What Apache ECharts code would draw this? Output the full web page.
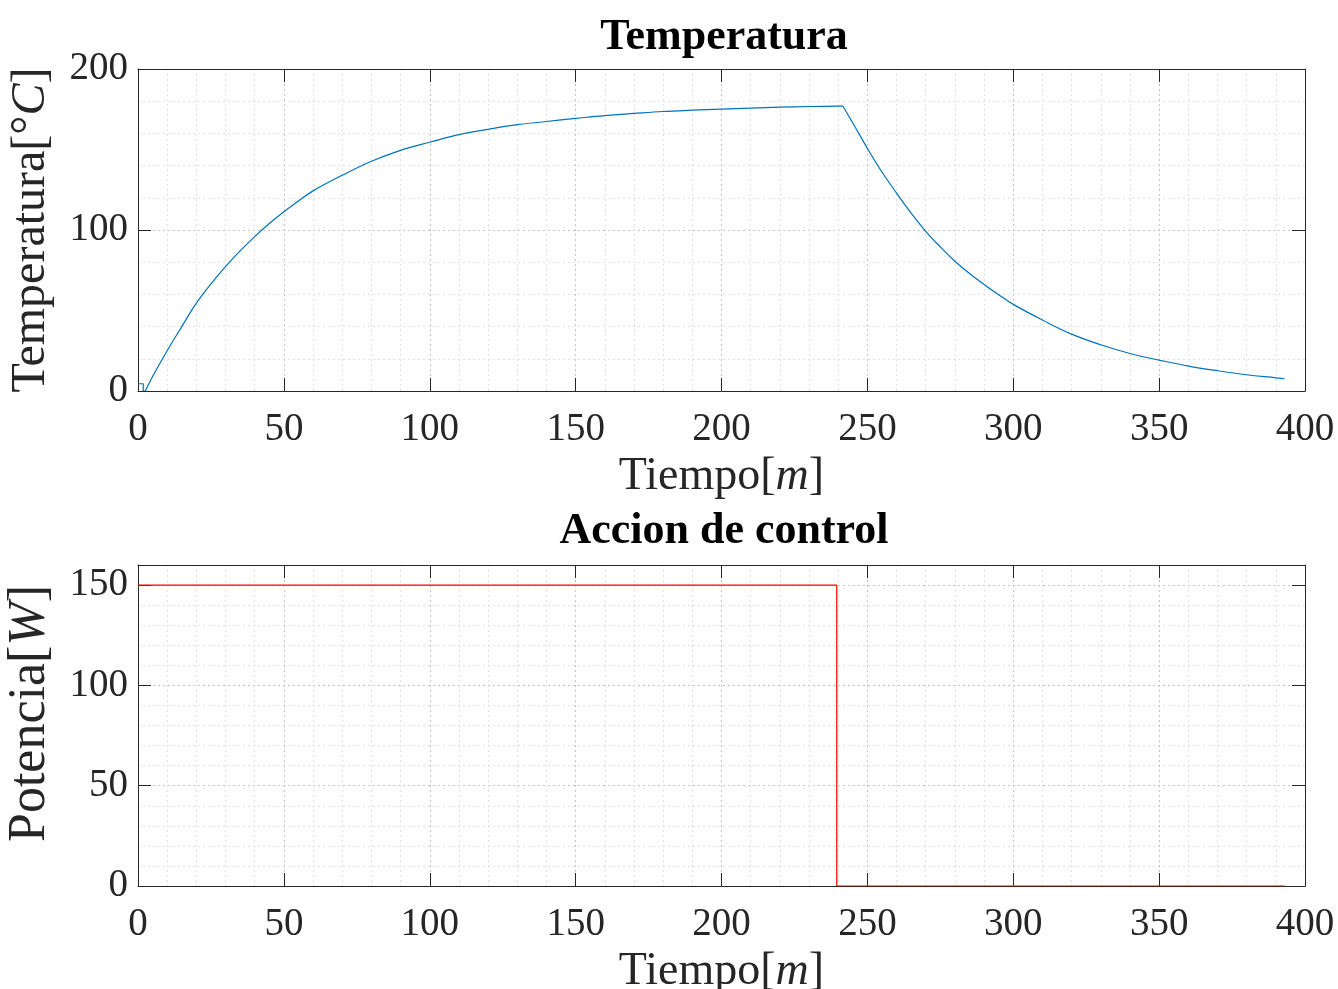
<!DOCTYPE html>
<html><head><meta charset="utf-8">
<script src="https://cdn.jsdelivr.net/npm/echarts@6/dist/echarts.min.js"></script>
<style>html,body{margin:0;padding:0;background:#fff}#c{width:1338px;height:989px}</style>
</head><body><div id="c"></div>
<script>
// Temperature response (minutes, °C)
const tempTime  = [0, 1.8, 1.8, 2.5, 5, 10, 15, 20, 25, 30, 35, 40, 45, 50, 55, 60, 70, 80, 90, 100,
                   110, 120, 130, 140, 150, 160, 170, 180, 190, 200, 210, 220, 230, 240, 241.6,
                   245, 250, 255, 260, 265, 270, 275, 280, 285, 290, 295, 300, 310, 320, 330, 340,
                   350, 360, 370, 380, 390, 393];
const tempValue = [4.5, 4.5, 0, 0, 9, 25, 40, 54.6, 66.5, 77.3, 87, 95.9, 104, 111.3, 118, 124.3, 134, 142.7, 149.5, 154.5,
                   159.2, 162.5, 165.4, 167.4, 169.3, 171.1, 172.4, 173.6, 174.4, 175.1, 175.7, 176.3, 176.7, 176.9, 177,
                   166.5, 150.7, 136, 122.9, 110.5, 99.2, 89.5, 80.6, 73, 66.2, 59.8, 53.8, 44.1, 35.3, 28.7, 23.3,
                   19.2, 15.5, 12.6, 10.1, 8.2, 7.6];
// Control action (minutes, W)
const powerTime  = [0, 239.5, 239.5, 393];
const powerValue = [150, 150, 0, 0];

const FONT = '"Liberation Serif", "Times New Roman", serif';
const AX = '#262626';
const gridDot = {type: [2, 3], color: '#c4c4c4', width: 1};
const minorDot = {type: [2, 3], color: '#e0e0e0', width: 1};

function pairs(xs, ys, a, b) { return xs.slice(a, b).map((x, i) => [x, ys[a + i]]); }
const riseStart = 3;                       // index of t = 2.5
const peakIdx = tempTime.indexOf(241.6);   // index of the peak

function xMain(g) {
  return {
    gridIndex: g, type: 'value', min: 0, max: 400, interval: 50, position: 'bottom',
    axisLine: {show: true, onZero: false, lineStyle: {color: AX, width: 1}},
    axisTick: {show: true, inside: true, length: 13, lineStyle: {color: AX}},
    axisLabel: {fontSize: 39, fontFamily: FONT, color: AX, margin: 19},
    splitLine: {show: true, lineStyle: gridDot},
    minorTick: {show: false, splitNumber: 5},
    minorSplitLine: {show: true, lineStyle: minorDot},
    name: 'Tiempo[{i|m}]', nameLocation: 'middle', nameGap: 63,
    nameTextStyle: {fontSize: 46, fontFamily: FONT, color: AX,
      rich: {i: {fontSize: 46, fontFamily: FONT, fontStyle: 'italic', color: AX}}}
  };
}
function xTop(g) {
  return {
    gridIndex: g, type: 'value', min: 0, max: 400, interval: 50, position: 'top',
    axisLine: {show: true, onZero: false, lineStyle: {color: AX, width: 1}},
    axisTick: {show: true, inside: true, length: 13, lineStyle: {color: AX}},
    axisLabel: {show: false}, splitLine: {show: false}
  };
}
function yMain(g, max, interval, name, fs, gap, pad) {
  return {
    gridIndex: g, type: 'value', min: 0, max: max, interval: interval, position: 'left',
    axisLine: {show: true, onZero: false, lineStyle: {color: AX, width: 1}},
    axisTick: {show: true, inside: true, length: 13, lineStyle: {color: AX}},
    axisLabel: {fontSize: 39, fontFamily: FONT, color: AX, margin: 10},
    splitLine: {show: true, lineStyle: gridDot},
    minorTick: {show: false, splitNumber: 5},
    minorSplitLine: {show: true, lineStyle: minorDot},
    name: name, nameLocation: 'middle', nameGap: gap,
    nameTextStyle: {fontSize: fs, fontFamily: FONT, color: AX, padding: pad,
      rich: {i: {fontSize: fs, fontFamily: FONT, fontStyle: 'italic', color: AX}}}
  };
}
function yRight(g, max, interval) {
  return {
    gridIndex: g, type: 'value', min: 0, max: max, interval: interval, position: 'right',
    axisLine: {show: true, onZero: false, lineStyle: {color: AX, width: 1}},
    axisTick: {show: true, inside: true, length: 13, lineStyle: {color: AX}},
    axisLabel: {show: false}, splitLine: {show: false}
  };
}

const blue = {color: '#0072BD', width: 1.2};
const chart = echarts.init(document.getElementById('c'), null, {renderer: 'canvas'});
chart.setOption({
  animation: false,
  backgroundColor: '#ffffff',
  title: [
    {text: 'Temperatura', left: 719, top: 11, textAlign: 'center',
     textStyle: {fontSize: 44, fontWeight: 'bold', fontFamily: FONT, color: '#000'}},
    {text: 'Accion de control', left: 719, top: 505, textAlign: 'center',
     textStyle: {fontSize: 44, fontWeight: 'bold', fontFamily: FONT, color: '#000'}}
  ],
  grid: [
    {left: 138, right: 33, top: 69, height: 322, outerBoundsMode: 'none', containLabel: false},
    {left: 138, right: 33, top: 565, height: 321, outerBoundsMode: 'none', containLabel: false}
  ],
  xAxis: [xMain(0), xTop(0), xMain(1), xTop(1)],
  yAxis: [
    yMain(0, 200, 100, 'Temperatura[°{i|C}]', 48, 83, 0), yRight(0, 200, 100),
    yMain(1, 160, 50, 'Potencia[{i|W}]', 52, 82, [0, 0, 0, 24]), yRight(1, 160, 50)
  ],
  series: [
    {type: 'line', xAxisIndex: 0, yAxisIndex: 0, data: pairs(tempTime, tempValue, 0, riseStart + 1),
     showSymbol: false, lineStyle: blue},
    {type: 'line', xAxisIndex: 0, yAxisIndex: 0, data: pairs(tempTime, tempValue, riseStart, peakIdx + 1),
     showSymbol: false, smooth: 0.4, lineStyle: blue},
    {type: 'line', xAxisIndex: 0, yAxisIndex: 0, data: pairs(tempTime, tempValue, peakIdx, tempTime.length),
     showSymbol: false, smooth: 0.4, lineStyle: blue},
    {type: 'line', xAxisIndex: 2, yAxisIndex: 2, data: pairs(powerTime, powerValue, 0, powerTime.length),
     showSymbol: false, lineStyle: {color: '#FF0000', width: 1.2}}
  ]
});
</script>
</body></html>
